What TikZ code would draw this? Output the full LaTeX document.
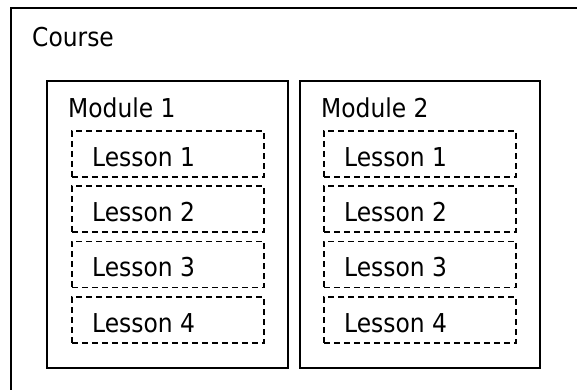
\documentclass[tikz,border=0pt]{standalone}
\usepackage{fontspec}
\setmainfont{DejaVu Sans Condensed}
\begin{document}
\begin{tikzpicture}[x=1pt,y=-1pt,
  outerbox/.style={draw,line width=1.6pt},
  module/.style={draw,line width=1.6pt,inner sep=0pt,anchor=north west,minimum width=241pt,minimum height=287pt},
  lesson/.style={draw,dash pattern=on 6pt off 4pt,line width=1.5pt,inner sep=0pt,anchor=north west,minimum width=192pt,minimum height=46pt},
  txt/.style={anchor=base west,inner sep=0pt,font=\fontsize{26}{30}\selectfont}]
\useasboundingbox (0,0) rectangle (577,389);
\begin{scope}
  \clip (0,0) rectangle (577,389);
  \draw[outerbox] (11,8) rectangle (600,420);
\end{scope}
\node[txt] (course) at (32,46) {Course};
\node[module] (m1) at (46,80) {};
\node[module,minimum width=240pt] (m2) at (299,80) {};
\node[txt] (m1t) at ([shift={(22,37)}]m1.north west) {Module 1};
\node[txt] (m2t) at ([shift={(22,37)}]m2.north west) {Module 2};
\foreach \i/\y in {1/130,2/185,3/240.5,4/296}{
  \node[lesson] (a\i) at (71,\y) {};
  \node[txt] (at\i) at ([shift={(21,36)}]a\i.north west) {Lesson \i};
  \node[lesson] (b\i) at (323,\y) {};
  \node[txt] (bt\i) at ([shift={(21,36)}]b\i.north west) {Lesson \i};
}
\end{tikzpicture}
\end{document}
